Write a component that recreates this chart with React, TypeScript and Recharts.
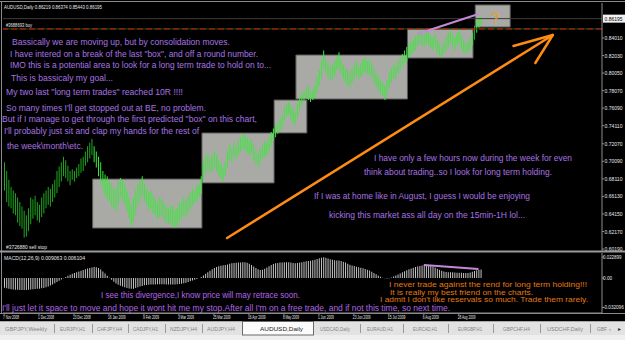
import {
  ComposedChart,
  Bar,
  Cell,
  XAxis,
  YAxis,
  ReferenceArea,
  ReferenceLine,
} from "recharts";

// date labels, one every 16 daily bars
const dateLabels = [
  "7 Nov 2008", "1 Dec 2008", "23 Dec 2008", "16 Jan 2009", "9 Feb 2009",
  "3 Mar 2009", "25 Mar 2009", "16 Apr 2009", "8 May 2009", "1 Jun 2009",
  "23 Jun 2009", "15 Jul 2009", "6 Aug 2009", "28 Aug 2009",
];
const labelStep = 16;
const slotCount = 274; // bars on screen incl. the empty right shift

// AUDUSD daily highs / lows
const highs = [
  0.700, 0.690, 0.680, 0.672, 0.668, 0.665, 0.660, 0.655, 0.650, 0.645,
  0.640, 0.648, 0.660, 0.658, 0.662, 0.655, 0.652, 0.660, 0.665, 0.668,
  0.672, 0.670, 0.675, 0.680, 0.690, 0.695, 0.700, 0.706, 0.702, 0.696,
  0.690, 0.692, 0.690, 0.694, 0.698, 0.704, 0.706, 0.712, 0.718, 0.722,
  0.726, 0.718, 0.712, 0.706, 0.700, 0.690, 0.686, 0.684, 0.678, 0.676,
  0.670, 0.672, 0.678, 0.682, 0.680, 0.675, 0.668, 0.660, 0.652, 0.660,
  0.668, 0.675, 0.680, 0.684, 0.676, 0.670, 0.666, 0.668, 0.662, 0.658,
  0.655, 0.660, 0.658, 0.654, 0.650, 0.648, 0.652, 0.650, 0.646, 0.648,
  0.654, 0.656, 0.660, 0.656, 0.662, 0.666, 0.670, 0.668, 0.674, 0.676,
  0.684, 0.700, 0.706, 0.710, 0.704, 0.708, 0.712, 0.708, 0.702, 0.698,
  0.694, 0.700, 0.712, 0.720, 0.716, 0.722, 0.718, 0.724, 0.728, 0.732,
  0.730, 0.728, 0.724, 0.726, 0.720, 0.714, 0.710, 0.716, 0.720, 0.724,
  0.722, 0.728, 0.734, 0.738, 0.742, 0.745, 0.748, 0.754, 0.762, 0.766,
  0.768, 0.764, 0.760, 0.756, 0.766, 0.774, 0.778, 0.780, 0.784, 0.786,
  0.780, 0.782, 0.788, 0.796, 0.804, 0.814, 0.826, 0.818, 0.812, 0.808,
  0.810, 0.814, 0.820, 0.824, 0.816, 0.810, 0.806, 0.804, 0.800, 0.806,
  0.810, 0.814, 0.808, 0.812, 0.816, 0.818, 0.814, 0.816, 0.812, 0.806,
  0.800, 0.796, 0.792, 0.790, 0.786, 0.792, 0.800, 0.806, 0.810, 0.808,
  0.814, 0.818, 0.822, 0.826, 0.830, 0.834, 0.836, 0.838, 0.842, 0.846,
  0.848, 0.846, 0.844, 0.848, 0.846, 0.842, 0.840, 0.844, 0.838, 0.834,
  0.830, 0.836, 0.842, 0.846, 0.848, 0.844, 0.840, 0.846, 0.848, 0.844,
  0.838, 0.834, 0.836, 0.840, 0.846, 0.854, 0.860, 0.864, 0.8637,
];
const lows = [
  0.668, 0.655, 0.650, 0.648, 0.642, 0.640, 0.632, 0.628, 0.625, 0.615,
  0.616, 0.622, 0.630, 0.636, 0.640, 0.634, 0.632, 0.638, 0.642, 0.648,
  0.652, 0.650, 0.655, 0.660, 0.665, 0.672, 0.678, 0.684, 0.682, 0.678,
  0.674, 0.680, 0.678, 0.682, 0.684, 0.688, 0.690, 0.696, 0.700, 0.704,
  0.708, 0.700, 0.694, 0.684, 0.675, 0.668, 0.662, 0.658, 0.656, 0.650,
  0.648, 0.645, 0.652, 0.660, 0.656, 0.652, 0.645, 0.636, 0.628, 0.632,
  0.640, 0.650, 0.656, 0.662, 0.656, 0.650, 0.645, 0.648, 0.642, 0.640,
  0.636, 0.638, 0.640, 0.634, 0.632, 0.630, 0.632, 0.628, 0.626, 0.628,
  0.632, 0.636, 0.640, 0.638, 0.642, 0.648, 0.652, 0.654, 0.656, 0.660,
  0.664, 0.678, 0.686, 0.692, 0.688, 0.690, 0.694, 0.690, 0.684, 0.682,
  0.678, 0.684, 0.694, 0.702, 0.700, 0.706, 0.704, 0.708, 0.712, 0.716,
  0.714, 0.710, 0.708, 0.710, 0.702, 0.698, 0.694, 0.700, 0.704, 0.706,
  0.708, 0.712, 0.718, 0.724, 0.728, 0.732, 0.734, 0.738, 0.746, 0.752,
  0.754, 0.748, 0.744, 0.742, 0.750, 0.758, 0.764, 0.768, 0.772, 0.770,
  0.768, 0.770, 0.772, 0.778, 0.786, 0.794, 0.806, 0.800, 0.796, 0.792,
  0.794, 0.798, 0.804, 0.806, 0.800, 0.794, 0.790, 0.786, 0.784, 0.790,
  0.794, 0.798, 0.794, 0.796, 0.800, 0.802, 0.800, 0.798, 0.796, 0.790,
  0.784, 0.780, 0.776, 0.774, 0.770, 0.776, 0.784, 0.790, 0.794, 0.794,
  0.800, 0.804, 0.808, 0.812, 0.814, 0.818, 0.820, 0.824, 0.826, 0.830,
  0.834, 0.832, 0.830, 0.834, 0.832, 0.828, 0.826, 0.830, 0.824, 0.820,
  0.818, 0.822, 0.826, 0.830, 0.834, 0.830, 0.826, 0.832, 0.834, 0.828,
  0.824, 0.822, 0.824, 0.826, 0.832, 0.838, 0.846, 0.852, 0.8544,
];

// MACD(12,26,9) histogram
const macdHist = [
  -0.0105, -0.0112, -0.0118, -0.0122, -0.0125, -0.0127, -0.0128, -0.0130, -0.0131, -0.0132,
  -0.0131, -0.0128, -0.0125, -0.0122, -0.0120, -0.0118, -0.0116, -0.0113, -0.0108, -0.0101,
  -0.0092, -0.0082, -0.0070, -0.0057, -0.0043, -0.0029, -0.0015, -0.0002, 0.0012, 0.0025,
  0.0036, 0.0046, 0.0055, 0.0063, 0.0071, 0.0079, 0.0087, 0.0095, 0.0103, 0.0110,
  0.0116, 0.0120, 0.0118, 0.0108, 0.0092, 0.0072, 0.0050, 0.0026, 0.0003, -0.0020,
  -0.0042, -0.0060, -0.0074, -0.0085, -0.0094, -0.0102, -0.0109, -0.0114, -0.0118, -0.0116,
  -0.0110, -0.0102, -0.0094, -0.0086, -0.0080, -0.0076, -0.0073, -0.0072, -0.0071, -0.0070,
  -0.0069, -0.0068, -0.0068, -0.0069, -0.0070, -0.0071, -0.0072, -0.0072, -0.0071, -0.0069,
  -0.0066, -0.0062, -0.0057, -0.0051, -0.0044, -0.0036, -0.0028, -0.0019, -0.0010, 0.0000,
  0.0012, 0.0028, 0.0046, 0.0064, 0.0080, 0.0095, 0.0108, 0.0119, 0.0128, 0.0134,
  0.0138, 0.0142, 0.0148, 0.0155, 0.0160, 0.0164, 0.0166, 0.0168, 0.0170, 0.0172,
  0.0171, 0.0166, 0.0156, 0.0142, 0.0126, 0.0110, 0.0096, 0.0088, 0.0090, 0.0100,
  0.0114, 0.0128, 0.0141, 0.0152, 0.0160, 0.0165, 0.0168, 0.0170, 0.0172, 0.0173,
  0.0172, 0.0168, 0.0164, 0.0162, 0.0164, 0.0168, 0.0173, 0.0178, 0.0182, 0.0185,
  0.0188, 0.0193, 0.0200, 0.0208, 0.0216, 0.0222, 0.0226, 0.0222, 0.0214, 0.0205,
  0.0198, 0.0194, 0.0192, 0.0191, 0.0186, 0.0178, 0.0168, 0.0157, 0.0146, 0.0137,
  0.0130, 0.0124, 0.0118, 0.0112, 0.0106, 0.0099, 0.0091, 0.0081, 0.0069, 0.0055,
  0.0040, 0.0026, 0.0013, 0.0003, -0.0004, -0.0006, -0.0002, 0.0006, 0.0016, 0.0027,
  0.0038, 0.0050, 0.0062, 0.0074, 0.0085, 0.0095, 0.0104, 0.0112, 0.0119, 0.0125,
  0.0131, 0.0136, 0.0140, 0.0142, 0.0140, 0.0134, 0.0125, 0.0114, 0.0102, 0.0090,
  0.0079, 0.0071, 0.0066, 0.0064, 0.0064, 0.0063, 0.0060, 0.0058, 0.0058, 0.0057,
  0.0055, 0.0054, 0.0056, 0.0061, 0.0068, 0.0076, 0.0084, 0.0090, 0.0093,
];

const priceTicks = [
  0.8401, 0.8203, 0.8005, 0.7807, 0.7609, 0.7411, 0.7207,
  0.7009, 0.6811, 0.6613, 0.6415, 0.6217, 0.6019,
];
const macdTicks = [0.022899, 0, -0.032096];
const macdTickLabels = ["0.022899", "0.00", "-0.032096"];

const lastClose = 0.86195;
const buyOrder = 0.8503;

// consolidation boxes: bar index range and price range
const boxes = [
  { from: 41, to: 90, low: 0.6256, high: 0.6809 },
  { from: 91, to: 123, low: 0.6765, high: 0.7329 },
  { from: 124, to: 138, low: 0.7329, high: 0.7701 },
  { from: 134, to: 184, low: 0.7712, high: 0.8209 },
  { from: 185, to: 214, low: 0.8175, high: 0.8503 },
  { from: 216, to: 231, low: 0.8525, high: 0.8774 },
];

const trendArrow = [
  [{ x: 102, y: 0.6143 }, { x: 251, y: 0.8435 }],
  [{ x: 233, y: 0.8311 }, { x: 251, y: 0.8435 }],
  [{ x: 243, y: 0.8119 }, { x: 251, y: 0.8435 }],
];
const priceDivergence = [{ x: 189, y: 0.8446 }, { x: 217, y: 0.8672 }];
const macdDivergence = [{ x: 192, y: 0.0142 }, { x: 217, y: 0.0098 }];

const rows = Array.from({ length: slotCount }, (_, i) => ({
  i,
  range: i < highs.length ? [lows[i], highs[i]] : null,
  macd: i < macdHist.length ? macdHist[i] : null,
  inBox: boxes.some((b) => i >= b.from && i <= b.to),
}));
const dateTickIdx = dateLabels.map((_, k) => k * labelStep);

const FONT = "Liberation Sans, Arial, sans-serif";
const LILAC = "#a774e2";
const ORANGE = "#e27a12";

const notes = [
  { t: "Bassically we are moving up, but by consolidation moves.", x: 12, y: 44.5, w: 218 },
  { t: 'I have intered on a break of the last "box", and off a round number.', x: 10, y: 56.5, w: 248 },
  { t: "IMO this is a potential area to look for a long term trade to hold on to...", x: 10, y: 67.5, w: 261 },
  { t: "This is bassicaly my goal...", x: 11, y: 80.5, w: 102 },
  { t: 'My two last "long term trades" reached 10R !!!!', x: 6, y: 94.5, w: 177 },
  { t: "So many times I'll get stopped out at BE, no problem.", x: 6, y: 110.5, w: 200 },
  { t: 'But if I manage to get through the first predicted "box" on this chart,', x: 2, y: 121.5, w: 255 },
  { t: "I'll probably just sit and clap my hands for the rest of", x: 4, y: 133.5, w: 195 },
  { t: "the week\\month\\etc.", x: 7, y: 148.5, w: 76 },
  { t: "I have only a few hours now during the week for even", x: 374, y: 160.5, w: 198 },
  { t: "think about trading..so I look for long term holding.", x: 364, y: 174.5, w: 188 },
  { t: "If I was at home like in August, I guess I would be enjoying", x: 314, y: 198.5, w: 216 },
  { t: "kicking this market ass all day on the 15min-1H lol...", x: 329, y: 217.5, w: 196 },
  { t: "I see this divergence,I know price will may retrace soon.", x: 101, y: 297.5, w: 199 },
];
const bottomNote = {
  t: "I'll just let it space to move and hope it wont hit me my stop.After all I'm on a free trade, and if not this time, so next time.",
  x: 2, y: 311, w: 448,
};
const orangeNotes = [
  { t: "I never trade against the rend for long term holding!!!", x: 389, y: 287, w: 198 },
  { t: "It is really my best friend on the charts.", x: 390, y: 294.5, w: 143 },
  { t: "I admit I don't like reservals so much. Trade them rarely.", x: 380, y: 302, w: 208 },
];
const smallLabels = [
  { t: "AUDUSD,Daily  0.86219 0.86374 0.85443 0.86195", x: 4, y: 8.5, w: 98 },
  { t: "#3688693 buy", x: 6, y: 27, w: 26 },
  { t: "#3726880 sell stop", x: 6, y: 249, w: 41 },
  { t: "MACD(12,26,9) 0.009063 0.006104", x: 4, y: 259.5, w: 81 },
];
const tabs = [
  { t: "GBPJPY,Weekly", x: 5, w: 42 },
  { t: "EURJPY,H1", x: 60, w: 25 },
  { t: "CHFJPY,H4", x: 97, w: 25 },
  { t: "CADJPY,H1", x: 133, w: 25 },
  { t: "NZDJPY,H4", x: 170, w: 27 },
  { t: "AUDJPY,H4", x: 207, w: 28 },
  { t: "USDCAD,Daily", x: 320, w: 30 },
  { t: "EURAUD,H1", x: 367, w: 26 },
  { t: "EURCAD,H1", x: 413, w: 24 },
  { t: "EURGBP,H1", x: 458, w: 24 },
  { t: "GBPCHF,H4", x: 503, w: 27 },
  { t: "USDCHF,Daily", x: 547, w: 36 },
  { t: "GBF", x: 597, w: 10 },
];
const tabSeps = [54, 92, 128, 165, 202, 360, 403, 448, 493, 540, 590];

const PriceTick = (props: any) => {
  const { x, y, payload } = props;
  return (
    <text x={x - 0.5} y={y + 2} fontSize={5.3} fill="#e8e8e8" fontFamily={FONT}
      textLength={18} lengthAdjust="spacingAndGlyphs">
      {Number(payload.value).toFixed(5)}
    </text>
  );
};

const MacdTick = (props: any) => {
  const { x, y, payload } = props;
  const label = macdTickLabels[macdTicks.indexOf(payload.value)] ?? "";
  return (
    <text x={x - 2} y={y + 2} fontSize={4.6} fill="#e8e8e8" fontFamily={FONT}
      textLength={label.length * 2.3} lengthAdjust="spacingAndGlyphs">
      {label}
    </text>
  );
};

const DateTick = (props: any) => {
  const { x, y, payload } = props;
  const label = dateLabels[payload.value / labelStep] ?? "";
  return (
    <text x={x - 1} y={y + 4} fontSize={5.5} fill="#e8e8e8" fontFamily={FONT}
      textLength={label.length * 1.6} lengthAdjust="spacingAndGlyphs">
      {label}
    </text>
  );
};

const PriceTag = (props: any) => {
  const { viewBox } = props;
  const x = viewBox.x + viewBox.width + 1;
  const y = viewBox.y;
  return (
    <g>
      <rect x={x} y={y - 4} width={22} height={8} fill="#f2f2f2" />
      <text x={x + 1.5} y={y + 2.2} fontSize={5.3} fill="#000" fontFamily={FONT}
        textLength={18} lengthAdjust="spacingAndGlyphs">
        {lastClose.toFixed(5)}
      </text>
    </g>
  );
};

export default function App() {
  return (
    <div style={{ position: "absolute", left: 0, top: 0, width: 625, height: 340, background: "#000", overflow: "hidden" }}>
      <div style={{ position: "absolute", left: 0, top: 0 }}>
        <ComposedChart width={625} height={252} data={rows} margin={{ top: 3, right: 0, bottom: 1, left: 3 }}>
          <XAxis dataKey="i" type="category" hide />
          <YAxis
            orientation="right"
            width={23}
            type="number"
            domain={[0.5997, 0.8796]}
            allowDataOverflow
            ticks={priceTicks}
            interval={0}
            tick={PriceTick}
            tickSize={2}
            tickMargin={1}
            axisLine={{ stroke: "#8c8c8c" }}
            tickLine={{ stroke: "#8c8c8c" }}
          />
          {boxes.map((b, k) => (
            <ReferenceArea
              key={k}
              x1={b.from}
              x2={b.to}
              y1={b.low}
              y2={b.high}
              fill="#a9aaa5"
              fillOpacity={1}
              stroke="#5a5a5a"
              strokeWidth={1}
              ifOverflow="visible"
            />
          ))}
          <ReferenceLine y={lastClose} stroke="#3c3c3c" label={PriceTag} />
          <ReferenceLine y={buyOrder} stroke="#0d5a0d" />
          <ReferenceLine y={buyOrder} stroke="#e01414" strokeDasharray="6 3" />
          <Bar dataKey="range" barSize={1} isAnimationActive={false}>
            {rows.map((r) => (
              <Cell key={r.i} fill={r.inBox ? "#34ee34" : "#1ea81e"} />
            ))}
          </Bar>
          <ReferenceLine segment={priceDivergence} stroke="#c488d8" strokeWidth={2} ifOverflow="visible" />
          {trendArrow.map((seg, k) => (
            <ReferenceLine key={k} segment={seg} stroke="#ff8c12" strokeWidth={2.5} strokeLinecap="round" ifOverflow="visible" />
          ))}
        </ComposedChart>
      </div>
      <div style={{ position: "absolute", left: 0, top: 252 }}>
        <ComposedChart width={625} height={70} data={rows} margin={{ top: 1, right: 0, bottom: 0, left: 3 }}>
          <XAxis
            dataKey="i"
            type="category"
            ticks={dateTickIdx}
            interval={0}
            height={9}
            tick={DateTick}
            tickSize={2}
            tickMargin={0}
            axisLine={{ stroke: "#8c8c8c" }}
            tickLine={{ stroke: "#8c8c8c" }}
          />
          <YAxis
            orientation="right"
            width={23}
            type="number"
            domain={[-0.0382, 0.0273]}
            allowDataOverflow
            ticks={macdTicks}
            interval={0}
            tick={MacdTick}
            tickSize={2}
            tickMargin={1}
            axisLine={{ stroke: "#8c8c8c" }}
            tickLine={{ stroke: "#8c8c8c" }}
          />
          <Bar dataKey="macd" barSize={1} fill="#c4c4c4" isAnimationActive={false} />
          <ReferenceLine segment={macdDivergence} stroke="#c488d8" strokeWidth={2} ifOverflow="visible" />
        </ComposedChart>
      </div>
      <svg width={625} height={340} style={{ position: "absolute", left: 0, top: 0, pointerEvents: "none" }}>
        <line x1={0} y1={1.5} x2={625} y2={1.5} stroke="#8a8a8a" />
        <line x1={1.5} y1={1} x2={1.5} y2={313} stroke="#8a8a8a" />
        <rect x={0} y={250.5} width={625} height={2} fill="#9a9a9a" />
        <line x1={0} y1={313.5} x2={625} y2={313.5} stroke="#8a8a8a" />
        {smallLabels.map((n, k) => (
          <text key={k} x={n.x} y={n.y} fontSize={6} fill="#e8e8e8" fontFamily={FONT}
            textLength={n.w} lengthAdjust="spacingAndGlyphs">{n.t}</text>
        ))}
        <text x={491} y={23} fontSize={15} fill="#f29a1e" fontFamily={FONT}>?</text>
        {notes.map((n, k) => (
          <text key={k} x={n.x} y={n.y} fontSize={9.5} fill={k >= 13 ? "#b466e6" : LILAC} fontFamily={FONT}
            textLength={n.w} lengthAdjust="spacingAndGlyphs">{n.t}</text>
        ))}
        <text x={bottomNote.x} y={bottomNote.y} fontSize={8.8} fill="#b466e6" fontFamily={FONT}
          textLength={bottomNote.w} lengthAdjust="spacingAndGlyphs">{bottomNote.t}</text>
        {orangeNotes.map((n, k) => (
          <text key={k} x={n.x} y={n.y} fontSize={8} fill={ORANGE} fontFamily={FONT}
            textLength={n.w} lengthAdjust="spacingAndGlyphs">{n.t}</text>
        ))}
        <rect x={0} y={321} width={625} height={19} fill="#e2e2e2" />
        <line x1={0} y1={321.5} x2={625} y2={321.5} stroke="#a8a8a8" />
        <rect x={0} y={335} width={625} height={5} fill="#efefef" />
        <rect x={242.5} y={321.5} width={71} height={13.5} fill="#fbfbfb" stroke="#6a6a6a" />
        <text x={260} y={331} fontSize={6} fill="#222" fontFamily={FONT}
          textLength={43} lengthAdjust="spacingAndGlyphs">AUDUSD,Daily</text>
        {tabs.map((tb, k) => (
          <text key={k} x={tb.x} y={331} fontSize={6} fill="#858585" fontFamily={FONT}
            textLength={tb.w} lengthAdjust="spacingAndGlyphs">{tb.t}</text>
        ))}
        {tabSeps.map((sx, k) => (
          <line key={k} x1={sx + 0.5} y1={324} x2={sx + 0.5} y2={333} stroke="#9a9a9a" />
        ))}
        <text x={609} y={331} fontSize={6} fill="#858585" fontFamily={FONT}>‹</text>
        <text x={618} y={331} fontSize={6} fill="#333" fontFamily={FONT}>▸</text>
      </svg>
    </div>
  );
}
